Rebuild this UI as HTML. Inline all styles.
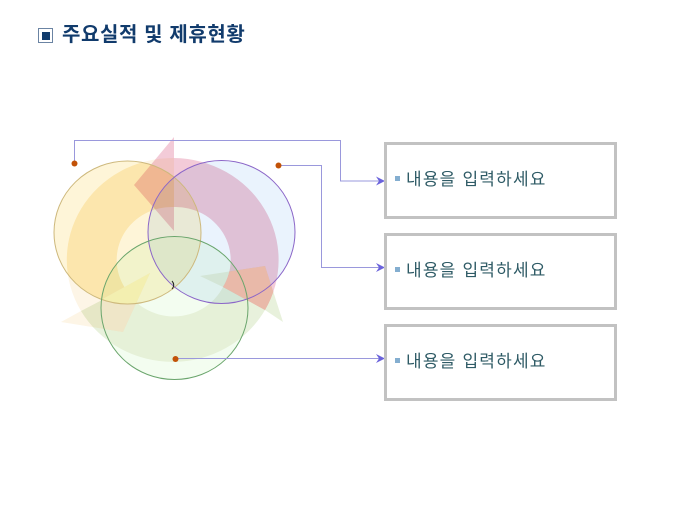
<!DOCTYPE html>
<html><head><meta charset="utf-8"><style>
html,body{margin:0;padding:0;background:#fff}
#p{position:relative;width:680px;height:510px;overflow:hidden;background:#fff;font-family:"Liberation Sans","Noto Sans CJK KR","NanumGothic",sans-serif}
.t{position:absolute;left:62px;top:21px;font-size:20px;line-height:28px;font-weight:bold;letter-spacing:.6px;color:#113b6c;white-space:nowrap}
.i{position:absolute;left:38px;top:28px;width:13px;height:13px;border:1px solid #6b84a3;background:#fff}
.i:after{content:"";position:absolute;left:2.500px;top:2.500px;width:8px;height:8px;background:#113b6c}
.b{position:absolute;left:384px;width:227px;height:71px;border:3px solid #c2c2c2;background:#fff}
.b i{position:absolute;left:8px;top:31px;width:5px;height:5px;background:#84aed0}
.b span{position:absolute;left:19px;top:23px;font-size:17px;line-height:24px;letter-spacing:1.200px;color:#2f5b66;white-space:nowrap}
svg{position:absolute;left:0;top:0}
.m{mix-blend-mode:multiply}
</style></head><body><div id="p">
<div class="i"></div><div class="t">주요실적 및 제휴현황</div>
<svg width="680" height="510" viewBox="0 0 680 510">
<defs>
<clipPath id="cy"><ellipse cx="127.500" cy="232.500" rx="73.500" ry="71.500"/></clipPath>
<clipPath id="cg"><ellipse cx="174.500" cy="308" rx="73.500" ry="71.500"/></clipPath>
<clipPath id="ng"><path clip-rule="evenodd" d="M0 0H680V510H0ZM101 308A73.500 71.500 0 1 0 248 308A73.500 71.500 0 1 0 101 308Z"/></clipPath>
<clipPath id="cp"><path d="M174 158A106 102 0 0 1 265 310L223 287A55 53 0 0 0 174 207L174 231L134 185L174 137Z"/></clipPath>
<path id="ay" d="M174 158A106 102 0 0 0 81 311L61 322L123 332L150 273L125 288A55 53 0 0 1 174 207Z"/>
<path id="ag" d="M81 311A106 102 0 0 0 265 310L283 322L265 266L200 276L223 287A55 53 0 0 1 125 288Z"/>
<path id="hy" d="M61 322L123 332L150 273Z"/>
</defs>
<g style="isolation:isolate">
<use href="#ay" class="m" fill="#fdf5e6"/>
<use href="#ay" class="m" fill="#fffae3" clip-path="url(#cy)"/>
<use href="#ag" class="m" fill="#e8f1dc" clip-path="url(#ng)"/>
<use href="#ag" class="m" fill="#f2f3e6" clip-path="url(#cg)"/>
<path class="m" fill="#f3cbd8" d="M174 158A106 102 0 0 1 265 310L223 287A55 53 0 0 0 174 207L174 231L134 185L174 137Z"/>
<ellipse class="m" cx="127.500" cy="232.500" rx="73.500" ry="71.500" fill="#fef5d8"/>
<ellipse class="m" cx="221.500" cy="232" rx="73.500" ry="71.500" fill="#eaf3fd"/>
<ellipse class="m" cx="174.500" cy="308" rx="73.500" ry="71.500" fill="#f3fdf0"/>
</g>
<use href="#ag" fill="#e9b9a9" clip-path="url(#cp)"/>
<use href="#hy" fill="#efe6c8" clip-path="url(#cg)"/>
<g clip-path="url(#cg)"><use href="#hy" fill="#f3efb0" clip-path="url(#cy)"/></g>
<ellipse cx="127.500" cy="232.500" rx="73.500" ry="71.500" fill="none" stroke="#cdb87c" stroke-width="1"/>
<ellipse cx="221.500" cy="232" rx="73.500" ry="71.500" fill="none" stroke="#8b66c8" stroke-width="1"/>
<ellipse cx="174.500" cy="308" rx="73.500" ry="71.500" fill="none" stroke="#6aa56c" stroke-width="1"/>
<path d="M172 281Q175.500 285 172 289" fill="none" stroke="#222" stroke-width="1"/>
<g fill="none" stroke="#9a98dc" stroke-width="1">
<path d="M74.500 163V140.500H340.500V181H381"/>
<path d="M278 165.500H321.500V267.500H381"/>
<path d="M176 358.500H381"/>
</g>
<g fill="#6a62dc">
<path d="M385 181L376 176.500L379 181L376 185.500Z"/>
<path d="M385 267.500L376 263L379 267.500L376 272Z"/>
<path d="M385 358.500L376 354L379 358.500L376 363Z"/>
</g>
<g fill="#c25207">
<circle cx="74.500" cy="163.500" r="3"/>
<circle cx="278.500" cy="165.500" r="3"/>
<circle cx="175.500" cy="359" r="3"/>
</g>
</svg>
<div class="b" style="top:142px"><i></i><span>내용을 입력하세요</span></div>
<div class="b" style="top:233px"><i></i><span>내용을 입력하세요</span></div>
<div class="b" style="top:324px"><i></i><span>내용을 입력하세요</span></div>
</div></body></html>
